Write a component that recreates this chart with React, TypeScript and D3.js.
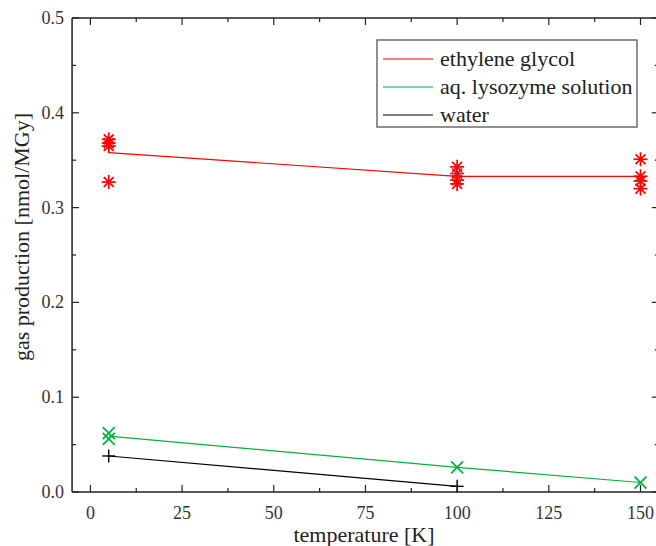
import React from "react";
import * as d3 from "d3";

// temperatures [K] and measured gas production [nmol/MGy]
const temps = [5, 100, 150];
const glycolPts = [
  [5, 0.372], [5, 0.368], [5, 0.365], [5, 0.327],
  [100, 0.343], [100, 0.336], [100, 0.329], [100, 0.325],
  [150, 0.351], [150, 0.333], [150, 0.328], [150, 0.320],
];
const glycolMean = [0.358, 0.333, 0.333];
const lysoPts = [[5, 0.062], [5, 0.056], [100, 0.026], [150, 0.010]];
const lysoMean = [0.059, 0.026, 0.010];
const waterPts = [[5, 0.038], [100, 0.006]];
const waterMean = [0.038, 0.006];

const xTicks = [0, 25, 50, 75, 100, 125, 150];
const yTicks = [0, 0.1, 0.2, 0.3, 0.4, 0.5];
const legendNames = ["ethylene glycol", "aq. lysozyme solution", "water"];
const colors = ["#ff0000", "#00b33c", "#000000"];

const W = 656, H = 546;
const font = "'Liberation Serif', 'Times New Roman', Times, serif";

export default function App() {
  const x = d3.scaleLinear().domain([0, 150]).range([90.4, 640.5]);
  const y = d3.scaleLinear().domain([0, 0.5]).range([492, 18]);
  const left = x(-5), right = x(155);
  const line = d3.line<number[]>().x((d) => x(d[0])).y((d) => y(d[1]));

  const xMinor = d3.range(0, 156, 12.5);
  const yMinor = d3.range(0, 0.501, 0.05);

  // asterisk marker
  const star = (cx: number, cy: number, i: number) => {
    const r = 7;
    return (
      <g key={i} stroke={colors[0]} strokeWidth={1.7}>
        {[0, 45, 90, 135].map((a) => {
          const dx = r * Math.cos((a * Math.PI) / 180);
          const dy = r * Math.sin((a * Math.PI) / 180);
          return <line key={a} x1={cx - dx} y1={cy - dy} x2={cx + dx} y2={cy + dy} />;
        })}
      </g>
    );
  };
  const cross = (cx: number, cy: number, i: number) => {
    const r = 6;
    return (
      <g key={i} stroke={colors[1]} strokeWidth={1.8}>
        <line x1={cx - r} y1={cy - r} x2={cx + r} y2={cy + r} />
        <line x1={cx - r} y1={cy + r} x2={cx + r} y2={cy - r} />
      </g>
    );
  };
  const plus = (cx: number, cy: number, i: number) => {
    const r = 6.5;
    return (
      <g key={i} stroke={colors[2]} strokeWidth={1.4}>
        <line x1={cx - r} y1={cy} x2={cx + r} y2={cy} />
        <line x1={cx} y1={cy - r} x2={cx} y2={cy + r} />
      </g>
    );
  };

  return (
    <svg width={W} height={H} style={{ position: "absolute", left: 0, top: 0, background: "#fff" }}>
      <rect width={W} height={H} fill="#fff" />

      {/* fitted lines through means */}
      <path d={line(temps.map((t, i) => [t, glycolMean[i]]))!} fill="none" stroke={colors[0]} strokeWidth={1.2} />
      <path d={line(temps.map((t, i) => [t, lysoMean[i]]))!} fill="none" stroke={colors[1]} strokeWidth={1.2} />
      <path d={line(waterMean.map((v, i) => [temps[i], v]))!} fill="none" stroke={colors[2]} strokeWidth={1.2} />

      {glycolPts.map((d, i) => star(x(d[0]), y(d[1]), i))}
      {lysoPts.map((d, i) => cross(x(d[0]), y(d[1]), i))}
      {waterPts.map((d, i) => plus(x(d[0]), y(d[1]), i))}

      {/* frame */}
      <g stroke="#222" strokeWidth={1.5} fill="none">
        <line x1={left} y1={y(0)} x2={right} y2={y(0)} />
        <line x1={left} y1={y(0.5)} x2={right} y2={y(0.5)} />
        <line x1={left} y1={y(0)} x2={left} y2={y(0.5)} />
        <line x1={right} y1={y(0)} x2={right} y2={y(0.5)} />
      </g>

      {/* ticks, inward */}
      <g stroke="#222" strokeWidth={1.2}>
        {xMinor.map((t) => {
          const len = t % 25 === 0 ? 7 : 4;
          return (
            <g key={"x" + t}>
              <line x1={x(t)} x2={x(t)} y1={y(0)} y2={y(0) - len} />
              <line x1={x(t)} x2={x(t)} y1={y(0.5)} y2={y(0.5) + len} />
            </g>
          );
        })}
        {yMinor.map((t, i) => {
          const len = i % 2 === 0 ? 7 : 4;
          return (
            <g key={"y" + i}>
              <line x1={left} x2={left + len} y1={y(t)} y2={y(t)} />
              <line x1={right} x2={right - len} y1={y(t)} y2={y(t)} />
            </g>
          );
        })}
      </g>

      {/* tick labels */}
      <g fontFamily={font} fontSize={18} fill="#333">
        {xTicks.map((t) => (
          <text key={t} x={x(t)} y={519} textAnchor="middle">{t}</text>
        ))}
        {yTicks.map((t) => (
          <text key={t} x={64} y={y(t) + 6} textAnchor="end">{t.toFixed(1)}</text>
        ))}
      </g>

      {/* axis titles */}
      <text x={364} y={542} textAnchor="middle" fontFamily={font} fontSize={22} fill="#222">temperature [K]</text>
      <text transform={`translate(29,237) rotate(-90)`} textAnchor="middle" fontFamily={font} fontSize={22} fill="#222">gas production [nmol/MGy]</text>

      {/* legend */}
      <rect x={377} y={40} width={260} height={87} fill="#fff" stroke="#555" strokeWidth={1.3} />
      {legendNames.map((n, i) => (
        <g key={n}>
          <line x1={383} x2={433} y1={59 + i * 28} y2={59 + i * 28} stroke={colors[i]} strokeWidth={1.2} />
          <text x={440} y={66 + i * 28} fontFamily={font} fontSize={22} fill="#222">{n}</text>
        </g>
      ))}
    </svg>
  );
}
